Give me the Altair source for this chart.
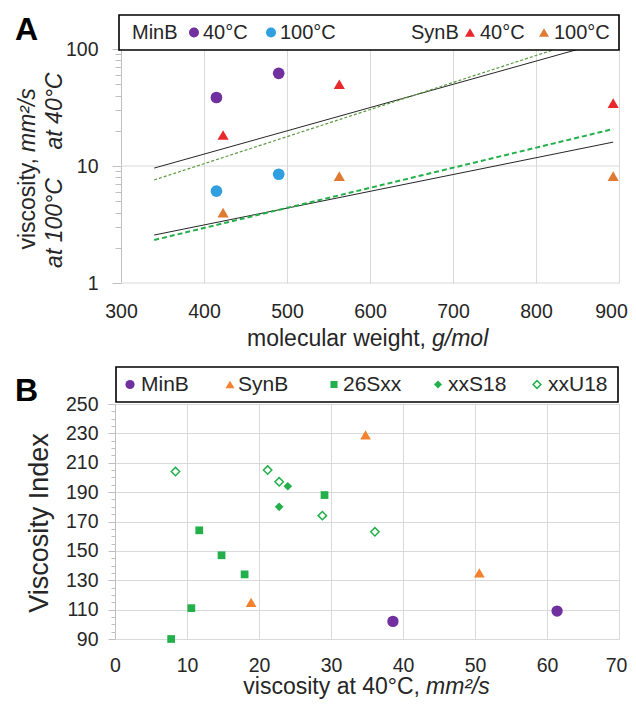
import altair as alt
import pandas as pd

# ---------------- Panel A data ----------------
a_minb_mw = [415, 490]
a_minb_v40 = [38.5, 62]
a_minb_v100 = [6.1, 8.5]
a_synb_mw = [423, 563, 893]
a_synb_v40 = [18.4, 50, 34.5]
a_synb_v100 = [4.0, 8.2, 8.2]

# trend lines (start / end points)
fit_mw_start = [340, 340, 340, 340]
fit_mw_end = [852, 824, 893, 893]
fit_v_start = [9.6, 7.6, 2.57, 2.33]
fit_v_end = [100, 100, 16, 20.7]

# ---------------- Panel B data ----------------
b_minb_v40 = [38.6, 61.4]
b_minb_vi = [102, 109]
b_synb_v40 = [18.9, 34.8, 50.6]
b_synb_vi = [115, 229, 135]
b_26sxx_v40 = [7.8, 10.6, 11.7, 14.8, 18.0, 29.1]
b_26sxx_vi = [90, 111, 164, 147, 134, 188]
b_xxs18_v40 = [22.8, 24.0]
b_xxs18_vi = [180, 194]
b_xxu18_v40 = [8.4, 21.2, 22.8, 28.8, 36.1]
b_xxu18_vi = [204, 205, 197, 174, 163]

# tick values
a_x_ticks = [300, 400, 500, 600, 700, 800, 900]
a_y_ticks = [1, 2, 3, 4, 5, 6, 7, 8, 9, 10, 20, 30, 40, 50, 60, 70, 80, 90, 100]
a_y_major = [1, 10, 100]
b_x_ticks = [0, 10, 20, 30, 40, 50, 60, 70]
b_y_ticks = list(range(90, 251, 5))

# ---------------- styles ----------------
FONT = "Liberation Sans"
GRID = "#d9d9d9"
AXC = "#bfbfbf"
TXT = "#262626"
PURPLE = "#7030a0"
BLUE = "#2f9fe0"
RED = "#e8282b"
ORANGE_A = "#e07a32"
ORANGE_B = "#f4812f"
GREEN = "#23b04b"
DKGREEN = "#5a9a40"
TICKFS = 19.5

ONE = alt.InlineData(values=[{"k": 0}])


def txt(s, x, y, size, align="left", baseline="alphabetic", style="normal",
        weight="normal", angle=0, color=TXT):
    kw = dict(text=s, align=align, baseline=baseline, fontSize=size, font=FONT,
              fontStyle=style, fontWeight=weight, color=color)
    if angle:
        kw["angle"] = angle
    return alt.Chart(ONE).mark_text(**kw).encode(x=alt.value(x), y=alt.value(y))


def sym(shape, color, size, x, y, filled=True):
    kw = dict(shape=shape, size=size, filled=filled, color=color, opacity=1)
    if not filled:
        kw["strokeWidth"] = 1.5
    return alt.Chart(ONE).mark_point(**kw).encode(x=alt.value(x), y=alt.value(y))


def box(x1, x2, y1, y2):
    return alt.Chart(ONE).mark_rect(fill="white", stroke="black", strokeWidth=1.6).encode(
        x=alt.value(x1), x2=alt.value(x2), y=alt.value(y1), y2=alt.value(y2))


# ================= Panel A =================
# Panel A's frame starts 6px to the right of panel B's frame
OFF = 6
WA, HA = 498 + OFF, 234
axXA = alt.Axis(values=a_x_ticks, grid=True, gridColor=GRID, ticks=False, domain=False,
                labelFont=FONT, labelFontSize=TICKFS, labelColor=TXT, labelPadding=19,
                labelFlush=False,
                labelOffset={"condition": {"test": "datum.value==900", "value": -8}, "value": 0},
                title=None)
axYA = alt.Axis(values=a_y_ticks,
                labelExpr="(datum.value==1||datum.value==10||datum.value==100) ? format(datum.value,'d') : ''",
                grid=False, offset=-OFF,
                ticks=True, tickColor=AXC,
                tickSize={"condition": {"test": "datum.value==1||datum.value==10||datum.value==100", "value": 9}, "value": 6},
                domain=True, domainColor=AXC,
                labelFont=FONT, labelFontSize=TICKFS, labelColor=TXT, labelPadding=14,
                title=None)
xA = alt.X("mw:Q", scale=alt.Scale(domain=[300, 900], nice=False, range=[OFF, WA]), axis=axXA)
yA = alt.Y("v:Q", scale=alt.Scale(type="log", domain=[1, 100], nice=False), axis=axYA)

gridA = alt.Chart(pd.DataFrame({"v": a_y_major, "x0": [a_x_ticks[0]] * 3,
                                "x1": [a_x_ticks[-1]] * 3})).mark_rule(
    color=GRID, strokeWidth=1).encode(
    y=alt.Y("v:Q", scale=alt.Scale(type="log", domain=[1, 100], nice=False), axis=axYA),
    x=alt.X("x0:Q", scale=alt.Scale(domain=[300, 900], nice=False, range=[OFF, WA]), axis=axXA),
    x2="x1:Q")


def fitA(i, color, width, dash=None):
    df = pd.DataFrame({"mw": [fit_mw_start[i], fit_mw_end[i]],
                       "v": [fit_v_start[i], fit_v_end[i]]})
    kw = dict(color=color, strokeWidth=width, clip=True)
    if dash:
        kw["strokeDash"] = dash
    return alt.Chart(df).mark_line(**kw).encode(x=xA, y=yA)


def ptsA(mw, v, shape, color, size):
    df = pd.DataFrame({"mw": mw, "v": v})
    return alt.Chart(df).mark_point(shape=shape, filled=True, size=size, color=color,
                                    opacity=1).encode(x=xA, y=yA)


LA = -16.5
layersA = [
    gridA,
    fitA(0, "#262626", 1),
    fitA(1, DKGREEN, 1.2, [3, 2]),
    fitA(2, "#262626", 1),
    fitA(3, GREEN, 2, [5, 3]),
    ptsA(a_minb_mw, a_minb_v40, "circle", PURPLE, 137),
    ptsA(a_minb_mw, a_minb_v100, "circle", BLUE, 137),
    ptsA(a_synb_mw, a_synb_v40, "triangle-up", RED, 125),
    ptsA(a_synb_mw, a_synb_v100, "triangle-up", ORANGE_A, 125),
    # legend
    box(OFF - 2, OFF + 498, -34, 1),
    txt("MinB", OFF + 11, LA, 20, baseline="middle"),
    sym("circle", PURPLE, 100, OFF + 73, LA),
    txt("40°C", OFF + 82, LA, 20, baseline="middle"),
    sym("circle", BLUE, 100, OFF + 150, LA),
    txt("100°C", OFF + 159, LA, 20, baseline="middle"),
    txt("SynB", OFF + 290, LA, 20, baseline="middle"),
    sym("triangle-up", RED, 100, OFF + 349, LA),
    txt("40°C", OFF + 359, LA, 20, baseline="middle"),
    sym("triangle-up", ORANGE_A, 100, OFF + 423, LA),
    txt("100°C", OFF + 433, LA, 20, baseline="middle"),
    # panel label
    txt("A", OFF - 106, -9, 32, weight="bold", color="black"),
    # x title
    txt("molecular weight,", OFF + 305, 297, 23, align="right"),
    txt("g/mol", OFF + 311, 297, 23, align="left", style="italic"),
    # y title (rotated)
    txt("viscosity,", OFF - 93, 109, 23, align="right", baseline="middle", angle=270),
    txt("mm²/s", OFF - 93, 103, 23, align="left", baseline="middle", angle=270, style="italic"),
    txt("at 100°C", OFF - 66, 174, 23, align="center", baseline="middle", angle=270, style="italic"),
    txt("at 40°C", OFF - 66, 62, 23, align="center", baseline="middle", angle=270, style="italic"),
]
chartA = alt.layer(*layersA).properties(
    width=WA, height=HA, view=alt.ViewBackground(strokeWidth=0))

# ================= Panel B =================
WB, HB = 504, 235
axXB = alt.Axis(values=b_x_ticks, grid=True, gridColor=GRID, ticks=False, domain=False,
                labelFont=FONT, labelFontSize=TICKFS, labelColor=TXT, labelPadding=17,
                labelFlush=False,
                labelOffset={"condition": {"test": "datum.value==70", "value": -3}, "value": 0},
                title=None)
axYB = alt.Axis(values=b_y_ticks,
                labelExpr="(datum.value-90)%20==0 ? format(datum.value,'d') : ''",
                grid=True, gridColor=GRID,
                gridOpacity={"condition": {"test": "(datum.value-90)%20==0", "value": 1}, "value": 0},
                ticks=True, tickColor=AXC,
                tickSize={"condition": {"test": "(datum.value-90)%20==0", "value": 7}, "value": 4},
                domain=True, domainColor=AXC,
                labelFont=FONT, labelFontSize=TICKFS, labelColor=TXT, labelPadding=10,
                title=None)
xB = alt.X("v40:Q", scale=alt.Scale(domain=[0, 70], nice=False), axis=axXB)
yB = alt.Y("vi:Q", scale=alt.Scale(domain=[90, 250], nice=False), axis=axYB)


def ptsB(v40, vi, shape, color, size, filled=True):
    df = pd.DataFrame({"v40": v40, "vi": vi})
    kw = dict(shape=shape, filled=filled, size=size, color=color, opacity=1)
    if not filled:
        kw["strokeWidth"] = 1.5
    return alt.Chart(df).mark_point(**kw).encode(x=xB, y=yB)


LY = -19.5
layersB = [
    ptsB(b_minb_v40, b_minb_vi, "circle", PURPLE, 128),
    ptsB(b_synb_v40, b_synb_vi, "triangle-up", ORANGE_B, 115),
    ptsB(b_26sxx_v40, b_26sxx_vi, "square", GREEN, 60),
    ptsB(b_xxs18_v40, b_xxs18_vi, "diamond", GREEN, 75),
    ptsB(b_xxu18_v40, b_xxu18_vi, "diamond", GREEN, 70, filled=False),
    # legend
    box(1, 503, -37, -2),
    sym("circle", PURPLE, 85, 15, LY),
    txt("MinB", 26, LY, 21, baseline="middle"),
    sym("triangle-up", ORANGE_B, 80, 115, LY),
    txt("SynB", 123, LY, 21, baseline="middle"),
    sym("square", GREEN, 50, 219, LY),
    txt("26Sxx", 228, LY, 21, baseline="middle"),
    sym("diamond", GREEN, 64, 323, LY),
    txt("xxS18", 333, LY, 21, baseline="middle"),
    sym("diamond", GREEN, 60, 422, LY, filled=False),
    txt("xxU18", 433, LY, 21, baseline="middle"),
    # panel label
    txt("B", -100, -3, 32, weight="bold", color="black"),
    # x title
    txt("viscosity at 40°C,", 305, 290, 23, align="right"),
    txt("mm²/s", 311, 290, 23, align="left", style="italic"),
    # y title
    txt("Viscosity Index", -75, 119, 27, align="center", baseline="middle", angle=270),
]
chartB = alt.layer(*layersB).properties(
    width=WB, height=HB, view=alt.ViewBackground(stroke=GRID, strokeWidth=1))

chart = alt.vconcat(chartA, chartB, spacing=14).properties(
    padding={"left": 6, "top": 6, "right": 0, "bottom": 0}
)

chart.save("out.html", embed_options={"renderer": "svg", "actions": False})
